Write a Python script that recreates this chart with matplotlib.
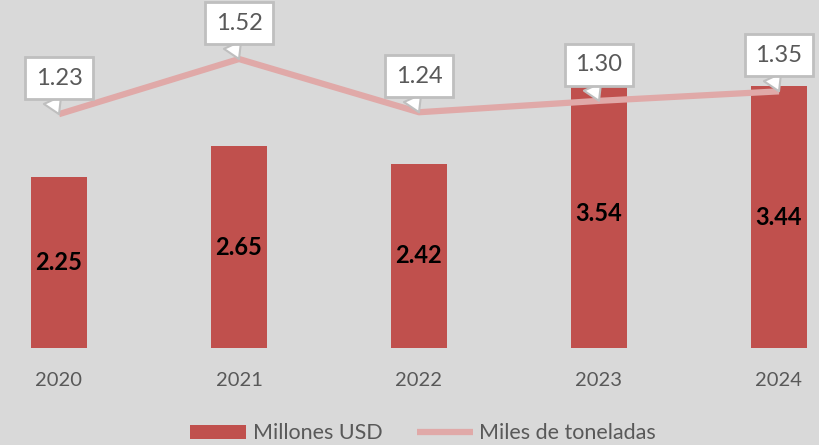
import matplotlib
matplotlib.use('Agg')
from matplotlib import pyplot as plt

years = ['2020', '2021', '2022', '2023', '2024']
millones_usd = [2.25, 2.65, 2.42, 3.54, 3.44]
miles_toneladas = [1.23, 1.52, 1.24, 1.30, 1.35]

bg = '#d9d9d9'
bar_color = '#c0504d'
line_color = '#e0a9a8'
gray_text = '#595959'

plt.rcParams['font.family'] = ['Lato', 'DejaVu Sans']

fig = plt.figure(figsize=(8.2, 4.45), dpi=100, facecolor=bg)
ax = fig.add_axes([0, 0.218, 1, 0.76])
ax.set_facecolor(bg)

x = list(range(len(years)))
bars = ax.bar(x, millones_usd, width=0.31, color=bar_color, label='Millones USD', zorder=2)
for xi, v in zip(x, millones_usd):
    ax.text(xi, v / 2, f'{v:.2f}', ha='center', va='center',
            fontsize=17, fontweight='bold', color='black', zorder=3)

ax.set_xlim(-59 / 180, 4 + 41 / 180)
ax.set_ylim(0, 338 / 76)
ax.set_xticks(x)
ax.set_xticklabels(years, fontsize=14.5, color=gray_text)
ax.tick_params(axis='x', length=0, pad=17)
ax.set_yticks([])
for s in ax.spines.values():
    s.set_visible(False)

ax2 = ax.twinx()
ax2.set_ylim(0, 338 / 190)
ax2.set_yticks([])
for s in ax2.spines.values():
    s.set_visible(False)
line, = ax2.plot(x, miles_toneladas, color=line_color, lw=4.5, label='Miles de toneladas',
                 solid_capstyle='butt', zorder=3)

# callouts above each point
for xi, v in zip(x, miles_toneladas):
    ax2.annotate(f'{v:.2f}', xy=(xi, v), xytext=(0, 36), textcoords='offset pixels',
                 ha='center', va='center', fontsize=17, color=gray_text, zorder=4,
                 bbox=dict(boxstyle='square,pad=0.44', fc='white', ec='#bfbfbf', lw=2),
                 arrowprops=dict(arrowstyle='wedge,tail_width=0.8', fc='white', ec='#bfbfbf',
                                 lw=1.5, relpos=(0.25, 0.0), shrinkA=0, shrinkB=0))

fig.legend([bars, line], ['Millones USD', 'Miles de toneladas'], loc='lower center',
           bbox_to_anchor=(0.516, -0.04), ncol=2, frameon=False, fontsize=15.5,
           labelcolor=gray_text, handlelength=2.6, handleheight=0.6, handletextpad=0.3,
           columnspacing=1.6)

fig.savefig('out.png', dpi=100, facecolor=bg)
